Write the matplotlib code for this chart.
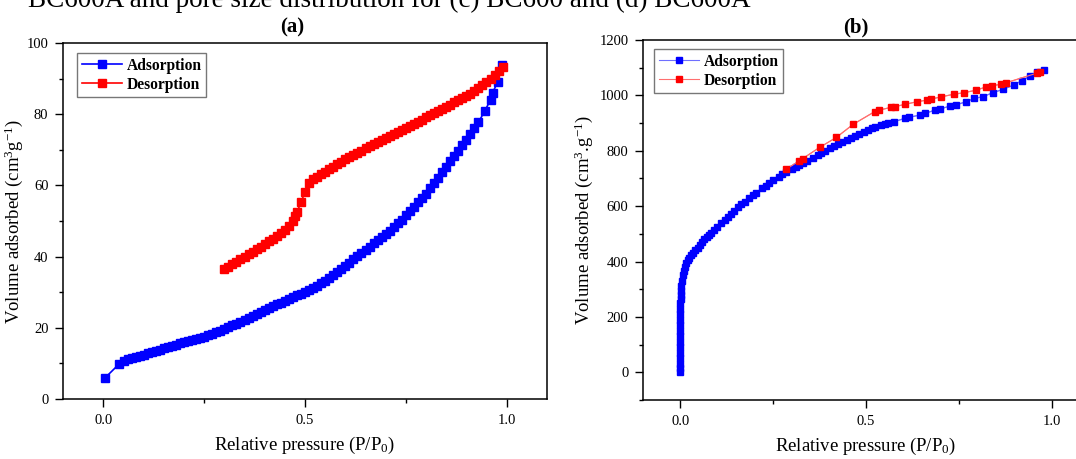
import matplotlib
matplotlib.use("Agg")
import matplotlib.pyplot as plt
from matplotlib.ticker import MultipleLocator

plt.rcParams['font.family'] = ['Liberation Serif', 'DejaVu Serif']
plt.rcParams['mathtext.default'] = 'regular'

# ---- panel (a) data ----
a_ads_x = [0.003, 0.038, 0.05, 0.06, 0.07, 0.08, 0.09, 0.10, 0.11, 0.12, 0.13, 0.14, 0.15,
           0.16, 0.17, 0.18, 0.19, 0.20, 0.21, 0.22, 0.23, 0.24, 0.25, 0.26, 0.27, 0.28,
           0.29, 0.30, 0.31, 0.32, 0.33, 0.34, 0.35, 0.36, 0.37, 0.38, 0.39, 0.40, 0.41,
           0.42, 0.43, 0.44, 0.45, 0.46, 0.47, 0.48, 0.49, 0.50, 0.51, 0.52, 0.53, 0.54,
           0.55, 0.56, 0.57, 0.58, 0.59, 0.60, 0.61, 0.62, 0.63, 0.64, 0.65, 0.66, 0.67,
           0.68, 0.69, 0.70, 0.71, 0.72, 0.73, 0.74, 0.75, 0.76, 0.77, 0.78, 0.79, 0.80,
           0.81, 0.82, 0.83, 0.84, 0.85, 0.86, 0.87, 0.88, 0.89, 0.90, 0.91, 0.92, 0.93,
           0.946, 0.960, 0.965, 0.978, 0.988]
a_ads_y = [5.8, 9.7, 10.7, 11.1, 11.5, 11.8, 12.2, 12.5, 12.9, 13.2, 13.6, 13.9, 14.3,
           14.6, 15.0, 15.3, 15.7, 16.0, 16.3, 16.6, 16.9, 17.2, 17.5, 17.9, 18.3, 18.7,
           19.2, 19.7, 20.2, 20.7, 21.2, 21.7, 22.2, 22.8, 23.3, 23.9, 24.5, 25.1, 25.6,
           26.1, 26.6, 27.1, 27.6, 28.1, 28.6, 29.1, 29.5, 30.0, 30.6, 31.2, 31.8, 32.5,
           33.2, 34.0, 34.8, 35.6, 36.5, 37.4, 38.3, 39.2, 40.1, 41.0, 41.9, 42.8, 43.7,
           44.6, 45.5, 46.3, 47.3, 48.3, 49.3, 50.4, 51.6, 52.8, 54.0, 55.2, 56.4, 57.7,
           59.2, 60.7, 62.2, 63.7, 65.3, 66.8, 68.3, 69.8, 71.3, 72.8, 74.4, 76.0, 77.7,
           81.0, 84.0, 86.0, 89.1, 93.8]

a_des_x = [0.30, 0.31, 0.32, 0.33, 0.34, 0.35, 0.36, 0.37, 0.38, 0.39, 0.40, 0.41, 0.42,
           0.43, 0.44, 0.45, 0.46, 0.47, 0.475, 0.48, 0.49, 0.50, 0.51, 0.52, 0.53, 0.54,
           0.55, 0.56, 0.57, 0.58, 0.59, 0.60, 0.61, 0.62, 0.63, 0.64, 0.65, 0.66, 0.67,
           0.68, 0.69, 0.70, 0.71, 0.72, 0.73, 0.74, 0.75, 0.76, 0.77, 0.78, 0.79, 0.80,
           0.81, 0.82, 0.83, 0.84, 0.85, 0.86, 0.87, 0.88, 0.89, 0.90, 0.91, 0.92, 0.93,
           0.94, 0.95, 0.96, 0.97, 0.98, 0.99]
a_des_y = [36.5, 37.2, 37.9, 38.6, 39.3, 40.0, 40.7, 41.4, 42.1, 42.8, 43.6, 44.3, 45.0,
           45.8, 46.6, 47.5, 48.6, 50.0, 51.5, 52.5, 55.2, 58.2, 60.6, 61.7, 62.5, 63.2,
           63.9, 64.6, 65.3, 66.0, 66.7, 67.3, 68.0, 68.6, 69.2, 69.8, 70.4, 71.0, 71.6,
           72.2, 72.7, 73.3, 73.9, 74.4, 74.9, 75.5, 76.1, 76.7, 77.3, 77.9, 78.5, 79.1,
           79.7, 80.3, 80.9, 81.5, 82.1, 82.7, 83.3, 83.9, 84.5, 85.1, 85.8, 86.5, 87.3,
           88.1, 89.0, 89.9, 90.9, 92.0, 93.2]

# ---- panel (b) data ----
b_ads_x = [0.0, 0.0, 0.0, 0.0, 0.0, 0.0, 0.0, 0.0, 0.0, 0.0, 0.0, 0.0, 0.0, 0.0, 0.001,
           0.001, 0.002, 0.003, 0.005, 0.007, 0.009, 0.012, 0.016, 0.020, 0.025, 0.030,
           0.035, 0.041, 0.047, 0.053, 0.059, 0.065, 0.071, 0.077, 0.082, 0.090, 0.100,
           0.110, 0.120, 0.130, 0.137, 0.145, 0.155, 0.165, 0.174, 0.185, 0.195, 0.205,
           0.220, 0.230, 0.240, 0.250, 0.265, 0.275, 0.285, 0.300, 0.311, 0.320, 0.330,
           0.340, 0.357, 0.370, 0.380, 0.390, 0.403, 0.415, 0.425, 0.435, 0.448, 0.460,
           0.470, 0.480, 0.494, 0.505, 0.515, 0.525, 0.540, 0.550, 0.560, 0.576, 0.604,
           0.617, 0.645, 0.659, 0.686, 0.700, 0.727, 0.741, 0.769, 0.791, 0.814, 0.842,
           0.869, 0.897, 0.919, 0.942, 0.961, 0.980]
b_ads_y = [2, 15, 30, 50, 70, 90, 110, 130, 150, 170, 190, 210, 230, 250, 265,
           280, 295, 310, 330, 350, 365, 380, 394, 405, 414, 422,
           430, 440, 450, 461, 471, 480, 489, 497, 504, 514, 526,
           538, 550, 562, 573, 584, 596, 606, 616, 628, 639, 649,
           664, 673, 684, 694, 707, 716, 725, 735, 743, 750, 757,
           764, 775, 785, 792, 800, 809, 817, 824, 831, 839, 847,
           854, 861, 869, 875, 881, 886, 893, 897, 900, 905, 917,
           921, 929, 935, 947, 951, 962, 965, 977, 989, 995, 1010,
           1022, 1037, 1053, 1070, 1083, 1092]

b_des_x = [0.285, 0.321, 0.330, 0.375, 0.420, 0.466, 0.523, 0.536, 0.568, 0.577, 0.606,
           0.637, 0.664, 0.676, 0.703, 0.736, 0.765, 0.797, 0.824, 0.838, 0.864, 0.878,
           0.959, 0.968]
b_des_y = [733, 764, 772, 812, 848, 896, 941, 947, 957, 959, 968,
           977, 983, 987, 995, 1004, 1010, 1019, 1031, 1035, 1040, 1046,
           1080, 1083]

W, H = 1076, 459
fig = plt.figure(figsize=(W / 100, H / 100), dpi=100)

# cut-off caption line at the very top
fig.text(28 / W, 1 - 7 / H, "BC600A and pore size distribution for (c) BC600 and (d) BC600A",
         fontsize=19.5, va='baseline', ha='left')

ax1 = fig.add_axes([63 / W, (H - 399) / H, (547 - 63) / W, (399 - 43) / H])
ax2 = fig.add_axes([643 / W, (H - 400) / H, (1089 - 643) / W, (400 - 40) / H])


def style(ax):
    for s in ax.spines.values():
        s.set_linewidth(1.1)
    ax.tick_params(direction='out', length=5.5, width=1, labelsize=10.5, pad=5)
    ax.tick_params(which='minor', direction='out', length=3, width=1)
    ax.xaxis.set_minor_locator(MultipleLocator(0.25))
    ax.set_xticks([0.0, 0.5, 1.0])
    ax.set_xticklabels(['0.0', '0.5', '1.0'])
    ax.set_xlim(-0.1, 1.1)
    ax.set_xlabel('Relative pressure (P/P$_0$)', fontsize=13.5, labelpad=6)


def add_legend(ax, anchor):
    leg = ax.legend(loc='upper left', bbox_to_anchor=anchor, fancybox=False,
                    edgecolor='#555555', prop={'weight': 'bold', 'size': 11.2},
                    handlelength=2.6, borderpad=0.3, labelspacing=0.2, handletextpad=0.3,
                    borderaxespad=0)
    leg.get_frame().set_linewidth(1.0)


ax1.plot(a_ads_x, a_ads_y, '-s', color='#0000ff', lw=1.2, ms=5.5, label='Adsorption')
ax1.plot(a_des_x, a_des_y, '-s', color='#ff0000', lw=1.2, ms=5.5, label='Desorption')
style(ax1)
ax1.set_ylim(0, 100)
ax1.yaxis.set_major_locator(MultipleLocator(20))
ax1.yaxis.set_minor_locator(MultipleLocator(10))
ax1.set_ylabel('Volume adsorbed (cm$^3$g$^{-1}$)', fontsize=13.5, labelpad=1)
add_legend(ax1, ((77 - 63) / 484, (399 - 53) / 356))

ax2.plot(b_ads_x, b_ads_y, '-', color='#6f6fff', lw=0.8)
ax2.plot(b_des_x, b_des_y, '-', color='#ff6f6f', lw=0.8)
ax2.plot(b_ads_x, b_ads_y, '-s', color='#6f6fff', mfc='#0000ff', mec='#0000ff', lw=0.8, ms=5,
         label='Adsorption')
ax2.plot(b_des_x, b_des_y, '-s', color='#ff6f6f', mfc='#ff0000', mec='#ff0000', lw=0.8, ms=5,
         label='Desorption')
style(ax2)
ax2.set_ylim(-100, 1200)
ax2.set_yticks([0, 200, 400, 600, 800, 1000, 1200])
ax2.yaxis.set_minor_locator(MultipleLocator(100))
ax2.set_ylabel('Volume adsorbed (cm$^3$.g$^{-1}$)', fontsize=13.5, labelpad=3)
add_legend(ax2, ((654 - 643) / 446, (400 - 49) / 360))

fig.text(292 / W, 1 - 27 / H, '(a)', fontsize=15, fontweight='bold', ha='center', va='center')
fig.text(856 / W, 1 - 27 / H, '(b)', fontsize=15, fontweight='bold', ha='center', va='center')

fig.savefig('out.png', dpi=100)
